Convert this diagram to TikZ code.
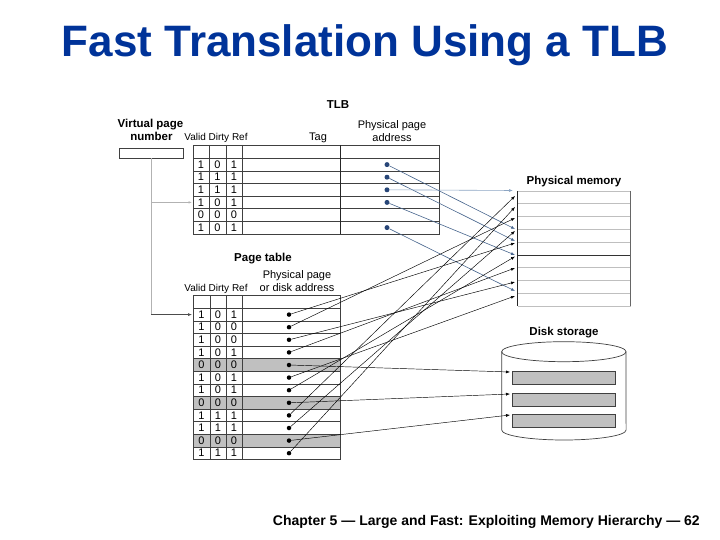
\documentclass[tikz,border=0pt]{standalone}
\usepackage{fontspec}
\setmainfont{Liberation Sans}
\usetikzlibrary{arrows.meta}
\definecolor{titleblue}{RGB}{0,51,153}
\definecolor{tlbblue}{RGB}{70,100,140}
\definecolor{tlblight}{RGB}{140,165,195}
\definecolor{dotblue}{RGB}{40,70,120}
\definecolor{rowgray}{RGB}{192,192,192}
\begin{document}
\begin{tikzpicture}[x=1pt,y=-1pt,
  lbl/.style={font=\fontsize{11.5}{13}\selectfont\bfseries, inner sep=0pt, anchor=base},
  txt/.style={font=\fontsize{11}{13}\selectfont, inner sep=0pt, anchor=base},
  small/.style={font=\fontsize{10}{12}\selectfont, inner sep=0pt, anchor=base},
  cell/.style={font=\fontsize{11}{12}\selectfont, inner sep=0pt},
  gridline/.style={draw=black!75, line width=0.7pt},
  pmline/.style={draw=black!25, line width=0.6pt},
  tlbarrow/.style={draw=tlbblue, line width=0.6pt, -{Latex[length=4pt,width=3pt]}},
  ptarrow/.style={draw=black, line width=0.45pt, -{Latex[length=4pt,width=3pt]}},
  bdot/.style={circle, fill=dotblue, inner sep=0pt, minimum size=5pt},
  kdot/.style={circle, fill=black, inner sep=0pt, minimum size=4.5pt},
]
\useasboundingbox (0,0) rectangle (720,540);

% title and footer
\node[anchor=base, inner sep=0pt, text=titleblue, font=\fontsize{44}{48}\selectfont\bfseries] (title) at (365,57) {Fast Translation Using a TLB};
\node[anchor=base east, inner sep=0pt, font=\fontsize{14}{16}\selectfont\bfseries] (footer) at (700,525) {Chapter 5 — Large and Fast: Exploiting Memory Hierarchy — 62};

% ---------- TLB ----------
\node[lbl] (tlblbl) at (338,109) {TLB};
\node[lbl] (vpn1) at (150.5,127.3) {Virtual page};
\node[lbl] (vpn2) at (151.5,140.7) {number};
\node[small] (tlbvdr) at (216,140.7) {Valid Dirty Ref};
\node[txt] (tag) at (318,140.7) {Tag};
\node[txt] (tlbpp1) at (392,128.3) {Physical page};
\node[txt] (tlbpp2) at (392,141.7) {address};

\draw[gridline] (119,148) rectangle (183,158.3);
\node[inner sep=0pt] (vpnbox) at (151,153) {};

\draw[gridline] (193,145) rectangle (439,233.9);
\foreach \k in {0,...,5} \draw[gridline] (193,158.3+12.6*\k) -- (439,158.3+12.6*\k);
\foreach \xx in {209,226,242} \draw[gridline] (\xx,145) -- (\xx,233.9);
\draw[draw=black!85, line width=0.9pt] (340,145) -- (340,233.9);

\foreach \v/\d/\r [count=\i] in {1/0/1,1/1/1,1/1/1,1/0/1,0/0/0,1/0/1}{
  \pgfmathsetmacro\yc{158.3+12.6*(\i-0.5)}
  \node[cell] (tv\i) at (201,\yc) {\v};
  \node[cell] (td\i) at (217.5,\yc) {\d};
  \node[cell] (tr\i) at (234,\yc) {\r};
}

% TLB dots
\node[bdot] (tdot1) at (387,164.6) {};
\node[bdot] (tdot2) at (387,177.2) {};
\node[bdot] (tdot3) at (387,189.8) {};
\node[bdot] (tdot4) at (387,202.4) {};
\node[bdot] (tdot6) at (387,227.6) {};

% ---------- Page table ----------
\node[lbl] (ptlbl) at (263,261) {Page table};
\node[txt] (ptpp1) at (297,278.3) {Physical page};
\node[txt] (ptpp2) at (297,291) {or disk address};
\node[small] (ptvdr) at (216,291) {Valid Dirty Ref};

\foreach \i in {5,8,11} \fill[rowgray] (193,308.3+12.6*\i-12.6) rectangle (340,308.3+12.6*\i);
\draw[gridline] (193,295) rectangle (340,459.5);
\foreach \k in {0,...,11} \draw[gridline] (193,308.3+12.6*\k) -- (340,308.3+12.6*\k);
\foreach \xx in {210,226,242} \draw[gridline] (\xx,295) -- (\xx,459.5);

\foreach \v/\d/\r [count=\i] in {1/0/1,1/0/0,1/0/0,1/0/1,0/0/0,1/0/1,1/0/1,0/0/0,1/1/1,1/1/1,0/0/0,1/1/1}{
  \pgfmathsetmacro\yc{308.3+12.6*(\i-0.5)}
  \node[cell] (pv\i) at (201.5,\yc) {\v};
  \node[cell] (pd\i) at (218,\yc) {\d};
  \node[cell] (pr\i) at (234,\yc) {\r};
  \node[kdot] (pdot\i) at (289,\yc) {};
}

% ---------- VPN connectors ----------
\coordinate (vdown) at (151,314.6);
\coordinate (vmid) at (151,202.4);
\coordinate (tlbin) at (192,202.4);
\coordinate (ptin) at (192,314.6);
\draw[draw=black!30, line width=0.6pt] (vpnbox.center |- 0,158.3) -- (vdown);
\draw[draw=black!30, line width=0.6pt, -{Latex[length=3.5pt,width=2.5pt]}] (vmid) -- (tlbin);
\draw[draw=black!70, line width=0.6pt, -{Latex[length=4pt,width=3pt]}] (vdown) -- (ptin);

% ---------- Physical memory ----------
\node[lbl] (pmlbl) at (574,185) {Physical memory};
\foreach \k in {0,...,9} \draw[pmline] (517.5,191+12.778*\k) -- (630.5,191+12.778*\k);
\draw[draw=black!80, line width=0.6pt] (517.5,254.9) -- (630.5,254.9);
\draw[draw=black!85, line width=0.9pt] (517.5,191) -- (517.5,306);
\draw[draw=black!60, line width=0.6pt] (630.5,191) -- (630.5,306);

% ---------- Disk storage ----------
\node[lbl] (disklbl) at (564,335) {Disk storage};
\draw[draw=black!75, line width=0.7pt] (501.7,351.7) -- (501.7,430)
   arc[start angle=180, end angle=0, x radius=62.2, y radius=10] -- (626,351.7);
\draw[draw=black!75, line width=0.7pt] (563.85,351.7) ellipse [x radius=62.2, y radius=10];
\draw[draw=black!75, fill=rowgray, line width=0.7pt] (512.3,371.7) rectangle (615.7,384.3);
\draw[draw=black!75, fill=rowgray, line width=0.7pt] (512.3,393.3) rectangle (615.7,406);
\draw[draw=black!75, fill=rowgray, line width=0.7pt] (512.3,414.3) rectangle (615.7,427.3);
\coordinate (dk1) at (510,372);
\coordinate (dk2) at (510,394);
\coordinate (dk3) at (510,415);

% ---------- TLB -> physical memory ----------
\coordinate (bt1) at (515,229);
\coordinate (bt2) at (515,241);
\coordinate (bt3) at (513,190.5);
\coordinate (bt4) at (515,255);
\coordinate (bt6) at (515,291);
\draw[tlbarrow] (tdot1) -- (bt1);
\draw[tlbarrow] (tdot2) -- (bt2);
\draw[tlbarrow, draw=tlblight] (tdot3) -- (bt3);
\draw[tlbarrow] (tdot4) -- (bt4);
\draw[tlbarrow] (tdot6) -- (bt6);

% ---------- Page table -> physical memory / disk ----------
\coordinate (pm1) at (515,243);
\coordinate (pm2) at (515,218);
\coordinate (pm3) at (515,282);
\coordinate (pm4) at (515,268);
\coordinate (pm6) at (515,296);
\coordinate (pm7) at (515,256.5);
\coordinate (pm9) at (515,196);
\coordinate (pm10) at (515,231);
\coordinate (pm12) at (515,207);
\foreach \i in {1,2,3,4,6,7,9,10,12} \draw[ptarrow] (pdot\i) -- (pm\i);
\draw[ptarrow] (pdot5) -- (dk1);
\draw[ptarrow] (pdot8) -- (dk2);
\draw[ptarrow] (pdot11) -- (dk3);
\end{tikzpicture}
\end{document}
